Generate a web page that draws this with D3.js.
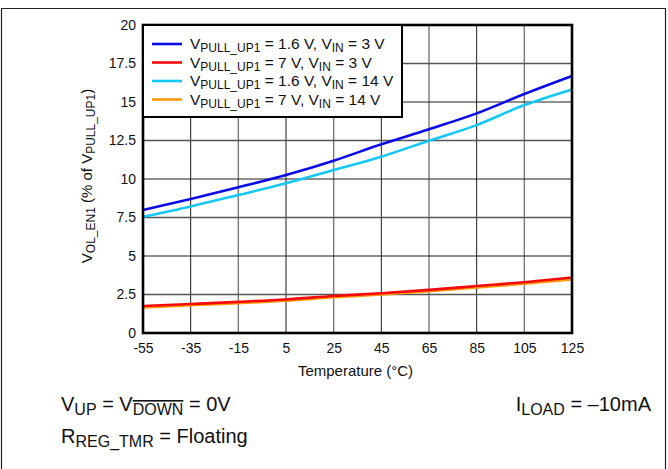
<!DOCTYPE html>
<html>
<head>
<meta charset="utf-8">
<script src="https://cdn.jsdelivr.net/npm/d3@7"></script>
<style>
  body { margin: 0; background: #fff; }
  svg { display: block; font-family: 'Liberation Sans', Arial, sans-serif; }
</style>
</head>
<body>
<div id="chart"></div>
<script>
// data
const temps = [-55, -35, -15, 5, 25, 45, 65, 85, 105, 125]
const pu16_in3 = [7.99, 8.7, 9.46, 10.26, 11.19, 12.25, 13.23, 14.26, 15.52, 16.69]
const pu7_in3 = [1.75, 1.88, 2.02, 2.18, 2.4, 2.58, 2.8, 3.05, 3.3, 3.6]
const pu16_in14 = [7.55, 8.22, 8.96, 9.72, 10.58, 11.45, 12.49, 13.5, 14.8, 15.82]
const pu7_in14 = [1.66, 1.8, 1.94, 2.1, 2.32, 2.5, 2.72, 2.95, 3.2, 3.48]
const yTicks = [0, 2.5, 5, 7.5, 10, 12.5, 15, 17.5, 20]
const seriesNames = [
  ['1.6 V', '3 V'],
  ['7 V', '3 V'],
  ['1.6 V', '14 V'],
  ['7 V', '14 V']
]

const W = 668
const H = 469
const m = { left: 143, right: 96, top: 25, bottom: 136 }
const width = W - m.left - m.right
const height = H - m.top - m.bottom

const colors = ['#0a0ae6', '#f50a0a', '#14c8f5', '#ff9a0a']
const values = [pu16_in3, pu7_in3, pu16_in14, pu7_in14]
// draw order: cyan under blue, orange under red
const drawOrder = [2, 0, 3, 1]

const svg = d3.select('#chart')
  .append('svg')
  .attr('width', W)
  .attr('height', H)

// outer frame
svg.append('path')
  .attr('d', `M1.5,${H} V8.5 H665.5 V${H}`)
  .attr('fill', 'none')
  .attr('stroke', '#222')
  .attr('stroke-width', 1.2)

const x = d3.scaleLinear().domain([-55, 125]).range([0, width])
const y = d3.scaleLinear().domain([0, 20]).range([height, 0])

const g = svg.append('g')
  .attr('transform', `translate(${m.left},${m.top})`)

// grid, mix of dark and grey lines like the original
g.append('g')
  .selectAll('line')
  .data(temps.slice(1, -1))
  .join('line')
  .attr('x1', (d) => x(d))
  .attr('x2', (d) => x(d))
  .attr('y1', 0)
  .attr('y2', height)
  .attr('stroke', (d, i) => (i % 2 ? '#7a7a7a' : '#1e1e1e'))
  .attr('stroke-width', (d, i) => (i % 2 ? 1.4 : 1))

g.append('g')
  .selectAll('line')
  .data(yTicks.slice(1, -1))
  .join('line')
  .attr('x1', 0)
  .attr('x2', width)
  .attr('y1', (d) => y(d))
  .attr('y2', (d) => y(d))
  .attr('stroke', (d, i) => (i % 2 ? '#1e1e1e' : '#555'))
  .attr('stroke-width', (d, i) => (i % 2 ? 1 : 1.3))

// axes (labels only, frame drawn below)
const xAxis = d3.axisBottom(x).tickValues(temps).tickSize(0).tickPadding(10)
  .tickFormat((d) => String(d))
const yAxis = d3.axisLeft(y).tickValues(yTicks).tickSize(0).tickPadding(7)
  .tickFormat((d) => String(d))

g.append('g')
  .attr('transform', `translate(0,${height})`)
  .call(xAxis)
  .call((a) => a.select('.domain').remove())
  .selectAll('text')
  .attr('fill', '#111')
  .style('font-size', '14px')

g.append('g')
  .call(yAxis)
  .call((a) => a.select('.domain').remove())
  .selectAll('text')
  .attr('fill', '#111')
  .style('font-size', '14px')

// series
const line = d3.line()
  .x((d, i) => x(temps[i]))
  .y((d) => y(d))
  .curve(d3.curveMonotoneX)

g.append('g')
  .selectAll('path')
  .data(drawOrder)
  .join('path')
  .attr('d', (k) => line(values[k]))
  .attr('fill', 'none')
  .attr('stroke', (k) => colors[k])
  .attr('stroke-width', 2.6)

// plot frame
g.append('rect')
  .attr('width', width)
  .attr('height', height)
  .attr('fill', 'none')
  .attr('stroke', '#000')
  .attr('stroke-width', 2.6)

// legend
const leg = g.append('g')
leg.append('rect')
  .attr('x', 0)
  .attr('y', 0)
  .attr('width', 259)
  .attr('height', 92)
  .attr('fill', '#fff')
  .attr('stroke', '#000')
  .attr('stroke-width', 2)

const rows = leg.selectAll('g')
  .data(seriesNames)
  .join('g')
  .attr('transform', (d, i) => `translate(0,${19 + i * 18.5})`)

rows.append('line')
  .attr('x1', 9)
  .attr('x2', 39)
  .attr('stroke', (d, i) => colors[i])
  .attr('stroke-width', 2.6)

const lt = rows.append('text')
  .attr('x', 47)
  .attr('y', 5)
  .attr('fill', '#111')
  .style('font-size', '15.5px')
lt.append('tspan').text('V')
lt.append('tspan').text('PULL_UP1').attr('dy', 3).style('font-size', '12px')
lt.append('tspan').text((d) => ` = ${d[0]}, V`).attr('dy', -3)
lt.append('tspan').text('IN').attr('dy', 3).style('font-size', '12px')
lt.append('tspan').text((d) => ` = ${d[1]}`).attr('dy', -3)

// axis titles
g.append('text')
  .attr('x', width / 2 - 2)
  .attr('y', height + 43)
  .attr('text-anchor', 'middle')
  .attr('fill', '#111')
  .style('font-size', '15px')
  .text('Temperature (°C)')

const yt = svg.append('text')
  .attr('transform', `translate(92,${m.top + height / 2 - 3}) rotate(-90)`)
  .attr('text-anchor', 'middle')
  .attr('fill', '#111')
  .style('font-size', '15px')
yt.append('tspan').text('V')
yt.append('tspan').text('OL_EN1').attr('dy', 3).style('font-size', '12px')
yt.append('tspan').text(' (% of V').attr('dy', -3)
yt.append('tspan').text('PULL_UP1').attr('dy', 3).style('font-size', '12px')
yt.append('tspan').text(')').attr('dy', -3)

// conditions under the chart
const c1 = svg.append('text')
  .attr('x', 61)
  .attr('y', 411)
  .attr('fill', '#111')
  .style('font-size', '20px')
c1.append('tspan').text('V')
c1.append('tspan').text('UP').attr('dy', 4).style('font-size', '16px')
c1.append('tspan').text(' = V').attr('dy', -4)
c1.append('tspan').text('DOWN').attr('dy', 4).style('font-size', '16px')
  .attr('text-decoration', 'overline')
c1.append('tspan').text(' = 0V').attr('dy', -4)

const c2 = svg.append('text')
  .attr('x', 61)
  .attr('y', 443)
  .attr('fill', '#111')
  .style('font-size', '20px')
c2.append('tspan').text('R')
c2.append('tspan').text('REG_TMR').attr('dy', 4).style('font-size', '16px')
c2.append('tspan').text(' = Floating').attr('dy', -4)

const c3 = svg.append('text')
  .attr('x', 651)
  .attr('y', 411)
  .attr('text-anchor', 'end')
  .attr('fill', '#111')
  .style('font-size', '20px')
c3.append('tspan').text('I')
c3.append('tspan').text('LOAD').attr('dy', 4).style('font-size', '16px')
c3.append('tspan').text(' = \u201310mA').attr('dy', -4)
</script>
</body>
</html>
